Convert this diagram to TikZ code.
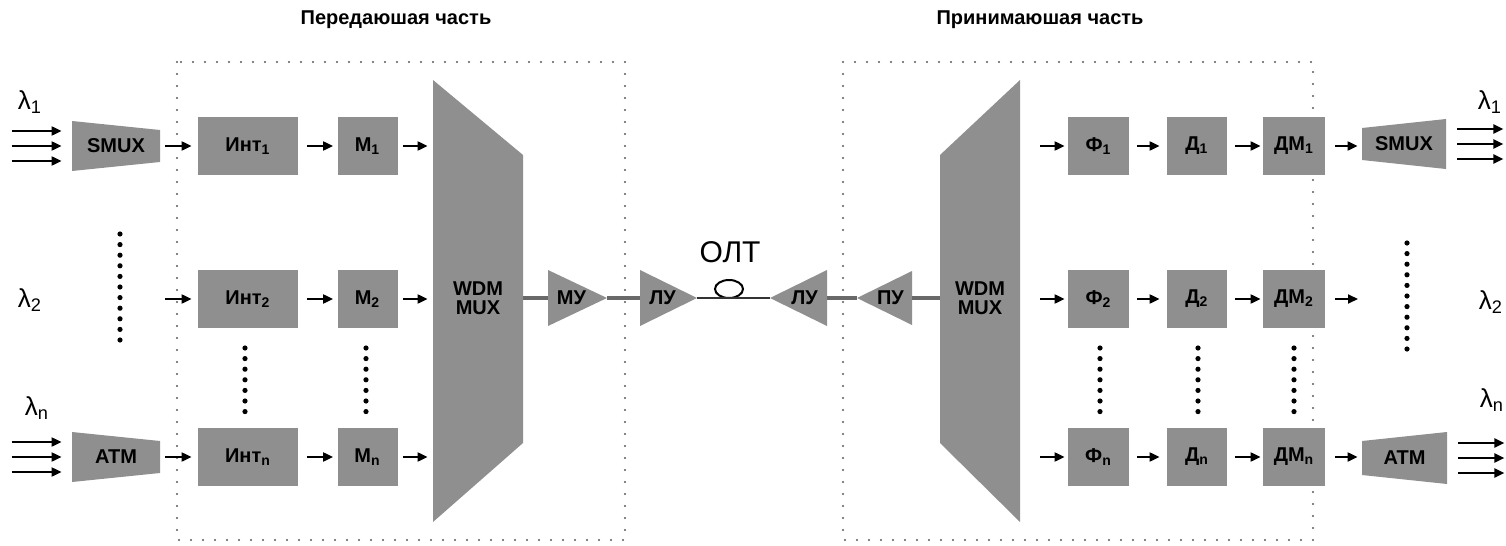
\documentclass[tikz,border=0pt]{standalone}
\usepackage{fontspec}
\setmainfont{Liberation Sans}
\usetikzlibrary{arrows.meta,shapes.geometric}
\definecolor{boxgray}{RGB}{143,143,143}
\definecolor{linegray}{RGB}{105,105,105}
\definecolor{dotgray}{RGB}{90,90,90}
\begin{document}
\begin{tikzpicture}[x=0.5pt,y=-0.5pt,
  bf/.style={font=\bfseries\fontsize{10}{9.5}\selectfont},
  blk/.style={bf,fill=boxgray,minimum height=29pt,inner sep=0pt},
  txt/.style={bf,inner sep=0pt},
  anch/.style={inner sep=0pt,minimum height=28pt},
  lam/.style={inner sep=0pt,font=\fontsize{13}{13}\selectfont},
  title/.style={inner sep=0pt,font=\bfseries\fontsize{10}{10}\selectfont},
  arr/.style={-{Triangle[length=5pt,width=4.5pt]},line width=1pt},
  gline/.style={line width=1.6pt,draw=linegray},
  fiber/.style={line width=1.2pt,draw=black!80},
  dotbox/.style={draw=dotgray,line width=1.1pt,dash pattern=on 0pt off 6pt,line cap=round},
  bigdots/.style={line width=2.6pt,dash pattern=on 0pt off 5.3pt,line cap=round}
]
\useasboundingbox (0,0) rectangle (1506,546);

% dotted frames
\draw[dotbox] (177,62) rectangle (625,540);
\draw[dotbox] (843,62) rectangle (1313,540);

% titles
\node[title] (t1) at (396,20) {Передаюшая часть};
\node[title] (t2) at (1040,20) {Принимаюшая часть};

% filled shapes (trapezoids, triangles, WDM)
\fill[boxgray] (72,121) -- (160,130) -- (160,162) -- (72,171) -- cycle;
\fill[boxgray] (72,432) -- (160,441) -- (160,473) -- (72,482) -- cycle;
\fill[boxgray] (1362,128) -- (1446,119) -- (1446,169) -- (1362,160) -- cycle;
\fill[boxgray] (1362,441) -- (1447,432) -- (1447,484) -- (1362,475) -- cycle;
\fill[boxgray] (433,80) -- (523,155) -- (523,443) -- (433,522) -- cycle;
\fill[boxgray] (940,155) -- (1020,80) -- (1020,522) -- (940,443) -- cycle;
\fill[boxgray] (548,270) -- (607,298) -- (548,326) -- cycle;
\fill[boxgray] (640,270) -- (697,298) -- (640,326) -- cycle;
\fill[boxgray] (827,270) -- (770,298) -- (827,326) -- cycle;
\fill[boxgray] (912,271) -- (857,298) -- (912,325) -- cycle;

% lambda labels
\node[lam] (la1) at (30,102) {λ\textsubscript{1}};
\node[lam] (la2) at (30,300) {λ\textsubscript{2}};
\node[lam] (lan) at (37,408) {λ\textsubscript{n}};
\node[lam] (ra1) at (1490,102) {λ\textsubscript{1}};
\node[lam] (ra2) at (1491,302) {λ\textsubscript{2}};
\node[lam] (ran) at (1492,400) {λ\textsubscript{n}};

% text / anchor nodes on shapes
\node[txt,anch,minimum width=44pt] (smux1) at (116,146) {SMUX};
\node[txt,anch,minimum width=44pt] (atm1) at (116,457) {ATM};
\node[txt,anch,minimum width=42pt] (smux2) at (1404,144) {SMUX};
\node[txt,anch,minimum width=42.5pt] (atm2) at (1404.5,458) {ATM};
\node[txt,align=center,minimum width=45pt,minimum height=221pt] (wdm1) at (478,298) {WDM\\MUX};
\node[txt,align=center,minimum width=40pt,minimum height=221pt] (wdm2) at (980,298) {WDM\\MUX};
\node[anch,minimum width=29.5pt,label={[txt,xshift=-3pt]center:МУ}] (mu) at (577.5,298) {};
\node[anch,minimum width=28.5pt,label={[txt,xshift=-3pt]center:ЛУ}] (lu1) at (668.5,298) {};
\node[anch,minimum width=28.5pt,label={[txt,xshift=3pt]center:ЛУ}] (lu2) at (798.5,298) {};
\node[anch,minimum width=27.5pt,label={[txt,xshift=3pt]center:ПУ}] (pu) at (884.5,298) {};

% fiber
\node[inner sep=0pt,font=\fontsize{15}{15}\selectfont] (olt) at (730,252) {ОЛТ};
\node[draw=black,line width=1pt,ellipse,inner sep=0pt,minimum width=14pt,minimum height=9pt] (loop) at (729,289) {};

% transmitter boxes
\node[blk,minimum width=50pt] (int1) at (248,146) {Инт\textsubscript{1}};
\node[blk,minimum width=50pt] (int2) at (248,299) {Инт\textsubscript{2}};
\node[blk,minimum width=50pt] (int3) at (248,457) {Инт\textsubscript{n}};
\node[blk,minimum width=30pt] (m1) at (367.5,146) {М\textsubscript{1}};
\node[blk,minimum width=30pt] (m2) at (367.5,299) {М\textsubscript{2}};
\node[blk,minimum width=30pt] (m3) at (367.5,457) {М\textsubscript{n}};

% receiver boxes
\node[blk,minimum width=30.5pt] (f1) at (1098.5,146) {Ф\textsubscript{1}};
\node[blk,minimum width=30.5pt] (f2) at (1098.5,299) {Ф\textsubscript{2}};
\node[blk,minimum width=30.5pt] (f3) at (1098.5,457) {Ф\textsubscript{n}};
\node[blk,minimum width=30pt] (d1) at (1197,146) {Д\textsubscript{1}};
\node[blk,minimum width=30pt] (d2) at (1197,299) {Д\textsubscript{2}};
\node[blk,minimum width=30pt] (d3) at (1197,457) {Д\textsubscript{n}};
\node[blk,minimum width=31pt] (dm1) at (1294,146) {ДМ\textsubscript{1}};
\node[blk,minimum width=31pt] (dm2) at (1294,299) {ДМ\textsubscript{2}};
\node[blk,minimum width=31pt] (dm3) at (1294,457) {ДМ\textsubscript{n}};

\coordinate (s2) at (165,299);
\coordinate (o2) at (1362,299);

% input / output triple arrows
\foreach \dy in {-15,0,15} {
  \draw[arr] ([shift={(-60,\dy)}]smux1.west) -- ([shift={(-10,\dy)}]smux1.west);
  \draw[arr] ([shift={(-60,\dy)}]atm1.west) -- ([shift={(-10,\dy)}]atm1.west);
  \draw[arr] ([shift={(11,\dy)}]smux2.east) -- ([shift={(57,\dy)}]smux2.east);
  \draw[arr] ([shift={(11,\dy)}]atm2.east) -- ([shift={(57,\dy)}]atm2.east);
}

% transmitter arrows
\draw[arr,shorten <=2.5pt,shorten >=3pt] (smux1.east) -- (smux1.east -| int1.west);
\draw[arr,shorten >=3pt] (s2) -- (int2.west);
\draw[arr,shorten <=2.5pt,shorten >=3pt] (atm1.east) -- (atm1.east -| int3.west);
\foreach \i in {1,2,3} {
  \draw[arr,shorten <=4.5pt,shorten >=2pt] (int\i.east) -- (m\i.west);
  \draw[arr,shorten <=2.5pt,shorten >=2.5pt] (m\i.east) -- (m\i.east -| wdm1.west);
}

% receiver arrows
\foreach \i in {1,2,3} {
  \draw[arr,shorten <=10pt,shorten >=1.5pt] (f\i.west -| wdm2.east) -- (f\i.west);
  \draw[arr,shorten <=4pt,shorten >=3.5pt] (f\i.east) -- (d\i.west);
  \draw[arr,shorten <=4pt,shorten >=1pt] (d\i.east) -- (dm\i.west);
}
\draw[arr,shorten <=5pt,shorten >=2pt] (dm1.east) -- (dm1.east -| smux2.west);
\draw[arr,shorten <=5pt,shorten >=2pt] (dm2.east) -- (o2);
\draw[arr,shorten <=5pt,shorten >=2pt] (dm3.east) -- (dm3.east -| atm2.west);

% optical line
\draw[gline] (mu.west -| wdm1.east) -- (mu.west);
\draw[gline] (mu.east) -- (lu1.west);
\draw[fiber] (lu1.east) -- (lu2.west);
\draw[gline] (lu2.east) -- (pu.west);
\draw[gline] (pu.east) -- (pu.east -| wdm2.west);

% big dot columns
\draw[bigdots] (120,234) -- (120,348);
\draw[bigdots] (1407,243) -- (1407,357);
\foreach \x in {245,366,1100,1198,1294}
  \draw[bigdots] (\x,348) -- (\x,412);
\end{tikzpicture}
\end{document}
